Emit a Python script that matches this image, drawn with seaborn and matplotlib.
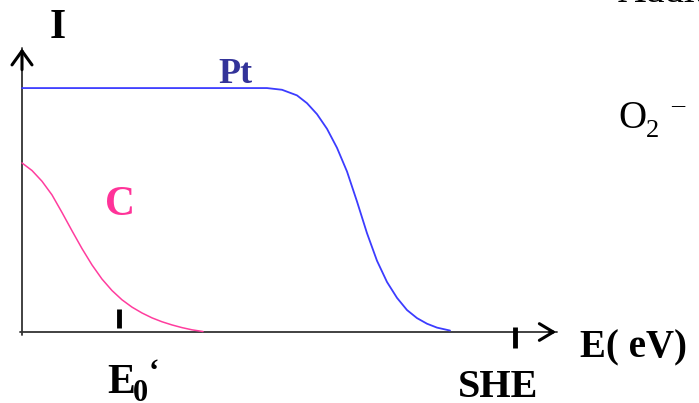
import matplotlib
matplotlib.use("Agg")
import matplotlib.pyplot as plt
import seaborn as sns
import pandas as pd

# Curve values (arbitrary units: E potential, I current)
pt_e = [0.0, 24.5, 26.0, 27.5, 28.5, 29.5, 30.5, 31.5, 32.5, 33.5, 34.5, 35.5,
        36.5, 37.5, 38.5, 39.5, 40.5, 41.5, 42.8]
pt_i = [10.0, 10.0, 9.93, 9.70, 9.38, 8.93, 8.33, 7.55, 6.58, 5.35, 4.05, 2.92,
        2.05, 1.40, 0.90, 0.57, 0.34, 0.18, 0.06]

c_e = [0.0, 1.0, 2.0, 3.0, 4.0, 5.0, 6.0, 7.0, 8.0, 9.0, 10.0, 11.0, 12.0, 13.0,
       14.0, 15.0, 16.0, 17.0, 18.1]
c_i = [6.93, 6.62, 6.18, 5.62, 4.90, 4.15, 3.42, 2.75, 2.17, 1.70, 1.32, 1.02,
       0.78, 0.58, 0.42, 0.29, 0.18, 0.09, 0.02]

# marked potentials on the E axis
e0_value = 9.7
she_value = 49.3
tick_height = 0.8

# axis extents
e_max = 53.5
i_max = 11.64

pt_df = pd.DataFrame({"E": pt_e, "I": pt_i})
c_df = pd.DataFrame({"E": c_e, "I": c_i})

sns.set_theme(style="white")
plt.rcParams['font.family'] = ['Liberation Serif', 'DejaVu Serif']

fig = plt.figure(figsize=(6.99, 4.03), dpi=100)
ax = fig.add_axes([0, 0, 1, 1])
ax.set_xlim(-2.2, 67.7)
ax.set_ylim(-2.91, 13.61)
ax.axis("off")

# curves
sns.lineplot(data=pt_df, x="E", y="I", sort=False, color="#3c3cff", lw=1.3, ax=ax)
sns.lineplot(data=c_df, x="E", y="I", sort=False, color="#ff3d9e", lw=1.1, ax=ax)

# axes with open arrow heads
ax.plot([-0.2, e_max], [0, 0], color="#333333", lw=1.3, zorder=1)
ax.plot([0, 0], [-0.12, i_max], color="#333333", lw=1.3, zorder=1)
ax.annotate("", xy=(e_max + 0.2, 0), xytext=(e_max - 1.0, 0),
            arrowprops=dict(arrowstyle="->,head_length=0.5,head_width=0.3",
                            color="black", lw=2.2, mutation_scale=20))
ax.annotate("", xy=(0, i_max + 0.1), xytext=(0, i_max - 1.0),
            arrowprops=dict(arrowstyle="->,head_length=0.5,head_width=0.36",
                            color="black", lw=2.2, mutation_scale=20))

# tick marks at E0' and SHE
ax.vlines(e0_value, 0.16, 0.16 + tick_height, color="black", lw=3.5)
ax.vlines(she_value, -0.65, 0.2, color="black", lw=3.5)

bold = dict(fontweight="bold", transform=ax.transAxes)
ax.text(0.083, 0.906, "I", fontsize=30, ha="center", va="baseline", color="black", **bold)
ax.text(0.312, 0.794, "Pt", fontsize=26, ha="left", va="baseline", color="#333399", **bold)
ax.text(0.150, 0.467, "C", fontsize=30, ha="left", va="baseline", color="#ff3399", **bold)
ax.text(0.153, 0.025, "E", fontsize=30, ha="left", va="baseline", color="black", **bold)
ax.text(0.190, 0.005, "0", fontsize=22, ha="left", va="baseline", color="black", **bold)
ax.text(0.213, 0.055, "\u2018", fontsize=22, ha="left", va="baseline", color="black", **bold)
ax.text(0.655, 0.015, "SHE", fontsize=29, ha="left", va="baseline", color="black", **bold)
ax.text(0.830, 0.112, "E( eV)", fontsize=28, ha="left", va="baseline", color="black", **bold)

# partially visible slide text at the right edge
ax.text(0.884, 0.682, "O", fontsize=28, ha="left", va="baseline", color="black",
        transform=ax.transAxes)
ax.text(0.924, 0.660, "2", fontsize=19, ha="left", va="baseline", color="black",
        transform=ax.transAxes)
ax.text(0.960, 0.725, "\u2013", fontsize=19, ha="left", va="baseline", color="black",
        transform=ax.transAxes)
ax.text(0.883, 0.995, "Addition", fontsize=28, ha="left", va="baseline", color="black",
        transform=ax.transAxes)

fig.savefig("out.png", dpi=100)
